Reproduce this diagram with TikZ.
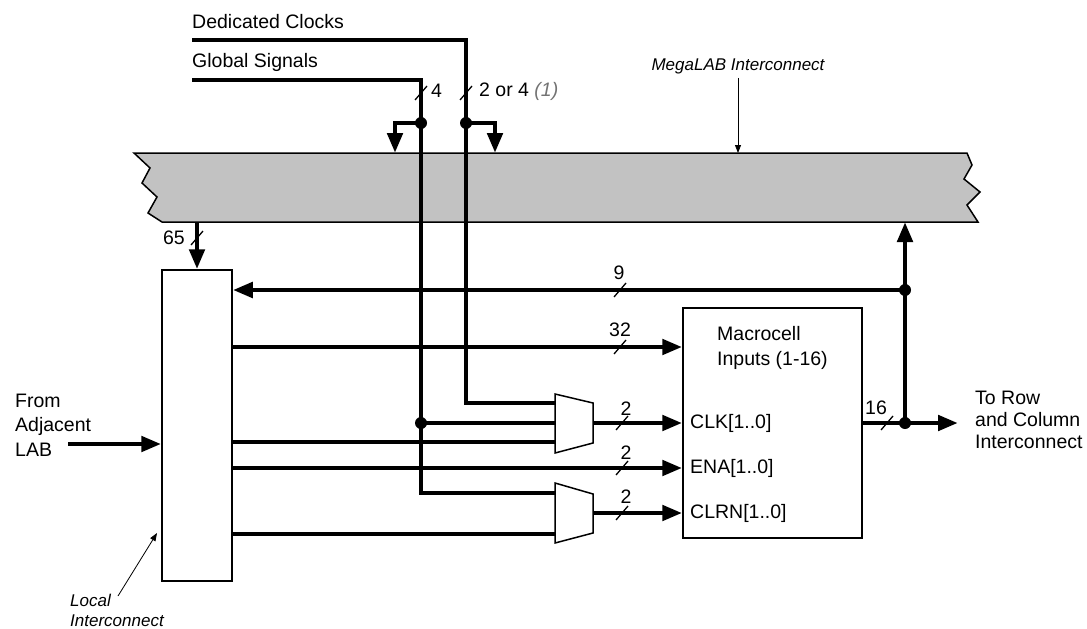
\documentclass[tikz,border=0pt]{standalone}
\usepackage{fontspec}
\setmainfont{Liberation Sans}
\usetikzlibrary{arrows.meta,positioning,calc}

\begin{document}
\begin{tikzpicture}[x=1pt, y=-1pt, >={Triangle[length=20pt,width=15pt]},
    bus/.style={line width=4.8pt},
    box/.style={draw, line width=1.5pt, fill=white, inner sep=0pt},
    lbl/.style={font=\fontsize{19.5}{24.5}\selectfont, inner sep=0pt},
    note/.style={font=\fontsize{17}{20}\selectfont\itshape, inner sep=0pt},
    pointer/.style={line width=0.8pt, -{Triangle[length=8pt,width=6pt]}},
    tick/.style={line width=1.3pt},
    junct/.style={circle, fill, inner sep=0pt, minimum size=12pt}]

    \useasboundingbox (0,0) rectangle (1087,629);

    % MegaLAB interconnect (shaded bar)
    \draw[line width=1.5pt, fill=black!24]
        (134,153) -- (967,153) -- (972,165) -- (964,179) -- (980,192)
        -- (967,205) -- (978,222) -- (162,222) -- (148,213) -- (157,197)
        -- (142,183) -- (150,168) -- cycle;
    \node[note] (mlab) at (738,66) {MegaLAB Interconnect};
    \coordinate (mlabTip) at (738,153);
    \draw[pointer] (mlab.south) ++(0,4) -- (mlabTip);

    % signal names at the top
    \node[lbl, anchor=west] (dclk) at (192,22) {Dedicated Clocks};
    \node[lbl, anchor=west] (gsig) at (192,62) {Global Signals};
    \coordinate (dclkL) at (192,40);
    \coordinate (gsigL) at (192,80);

    % blocks
    \node[box, minimum width=70pt, minimum height=311pt] (lic) at (197,425.5) {};
    \node[box, minimum width=179pt, minimum height=230pt] (mc) at (772.5,423) {};
    \node[lbl, align=left, anchor=west] (mctext) at (717,348)
        {Macrocell\\Inputs (1-16)};
    \node[lbl, anchor=west] (clk) at (690,423) {CLK[1..0]};
    \node[lbl, anchor=west] (ena) at (690,468) {ENA[1..0]};
    \node[lbl, anchor=west] (clrn) at (690,513) {CLRN[1..0]};

    % multiplexers
    \draw[line width=1.5pt, fill=white]
        (555,394) -- (593,403) -- (593,443) -- (555,453) -- cycle;
    \draw[line width=1.5pt, fill=white]
        (555,483) -- (593,494) -- (593,533) -- (555,543) -- cycle;
    \coordinate (m1a) at (555,403);
    \coordinate (m1b) at (555,423);
    \coordinate (m1c) at (555,442);
    \coordinate (m1o) at (593,423);
    \coordinate (m2a) at (555,493);
    \coordinate (m2b) at (555,534);
    \coordinate (m2o) at (593,513);

    % junctions
    \node[junct] (jg) at (421,123) {};
    \node[junct] (jd) at (466,123) {};
    \node[junct] (jg2) at (421,423) {};
    \node[junct] (jo) at (905,423) {};
    \node[junct] (jf) at (905,290) {};

    \coordinate (gin) at (395,153);
    \coordinate (din) at (495,153);
    \coordinate (bar65) at (197,222);
    \coordinate (barR) at (905,222);
    \coordinate (outR) at (958,423);
    \coordinate (adjL) at (68,444);

    % buses
    \draw[bus] (dclkL) -| (jd.center) |- (m1a);
    \draw[bus] (gsigL) -| (jg.center) -- (jg2.center) |- (m2a);
    \draw[bus, ->] (jg.center) -| (gin);
    \draw[bus, ->] (jd.center) -| (din);
    \draw[bus, ->] (bar65) -- (lic.north);
    \draw[bus, ->] (jf.center) -- (lic.east |- jf);
    \draw[bus, ->] (lic.east |- 0,347) -- (mc.west |- 0,347);
    \draw[bus] (jg2.center) -- (m1b);
    \draw[bus] (lic.east |- m1c) -- (m1c);
    \draw[bus, ->] (m1o) -- (mc.west |- m1o);
    \draw[bus, ->] (lic.east |- 0,468) -- (mc.west |- 0,468);
    \draw[bus] (lic.east |- m2b) -- (m2b);
    \draw[bus, ->] (m2o) -- (mc.west |- m2o);
    \draw[bus, ->] (mc.east |- jo) -- (outR);
    \draw[bus, ->] (jo.center) -- (barR);
    \draw[bus, ->] (adjL) -- (lic.west |- adjL);

    % bus widths
    \draw[tick] (415,100) -- (427,86);
    \node[lbl, anchor=west] (w4) at (431,91) {4};
    \draw[tick] (460,100) -- (472,86);
    \node[lbl, anchor=west] (w24) at (479,91)
        {2 or 4 {\color{black!55}\itshape (1)}};
    \draw[tick] (191,245) -- (203,231);
    \node[lbl, anchor=east] (w65) at (185,238) {65};
    \draw[tick] (614,297) -- (626,283);
    \node[lbl] (w9) at (619,273) {9};
    \draw[tick] (614,354) -- (626,340);
    \node[lbl] (w32) at (620,330) {32};
    \draw[tick] (616,430) -- (628,416);
    \node[lbl] (w2a) at (626,409) {2};
    \draw[tick] (616,475) -- (628,461);
    \node[lbl] (w2b) at (626,453) {2};
    \draw[tick] (616,520) -- (628,506);
    \node[lbl] (w2c) at (626,497) {2};
    \draw[tick] (881,430) -- (893,416);
    \node[lbl] (w16) at (876,408) {16};

    % outside labels
    \node[lbl, align=left, anchor=west] (adj) at (15,425)
        {From\\Adjacent\\LAB};
    \node[lbl, align=left, anchor=west, font=\fontsize{19.5}{22}\selectfont]
        (torow) at (975,420) {To Row\\and Column\\Interconnect};
    \node[note, align=left, anchor=west] (loc) at (70,610)
        {Local\\Interconnect};
    \coordinate (locS) at (118,596);
    \coordinate (locTip) at (157,533);
    \draw[pointer] (locS) -- (locTip);

\end{tikzpicture}
\end{document}
